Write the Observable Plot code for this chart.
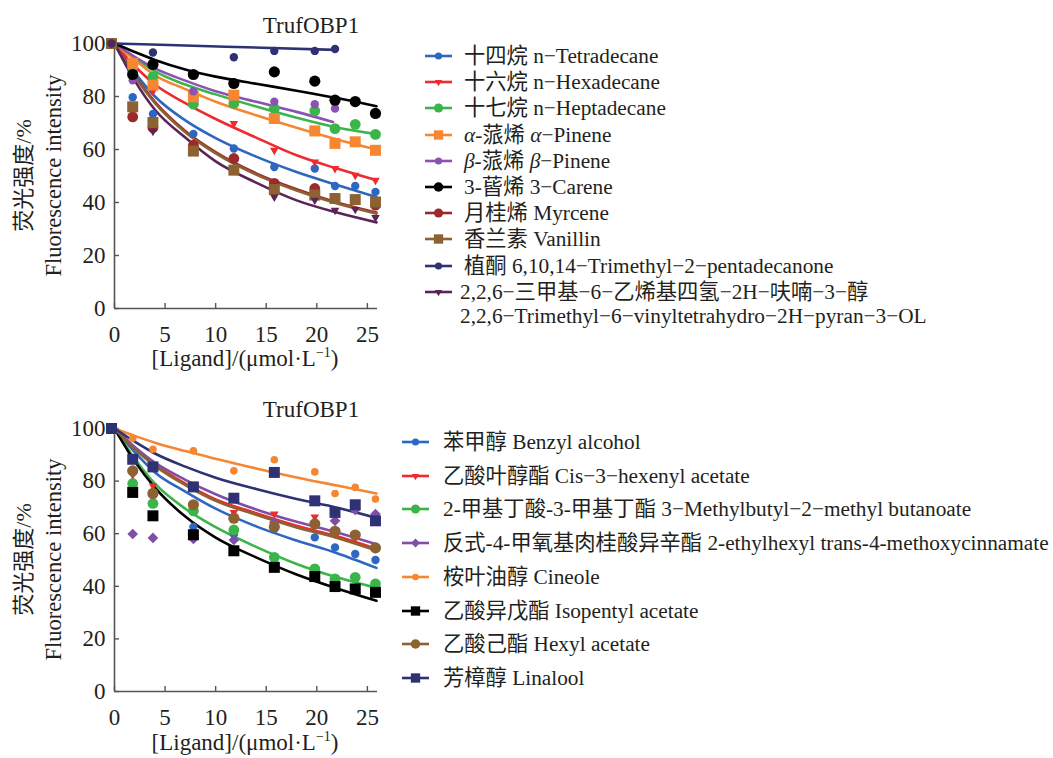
<!DOCTYPE html>
<html><head><meta charset="utf-8">
<script src="https://cdn.jsdelivr.net/npm/d3@7"></script>
<script src="https://cdn.jsdelivr.net/npm/@observablehq/plot@0.6"></script>
<style>
html,body{margin:0;padding:0;background:#fff;}
#root{position:relative;width:1053px;height:758px;overflow:hidden;font-family:'Liberation Serif','Times New Roman','Noto Sans CJK SC',serif;color:#231f20;}
.leg{position:absolute;white-space:nowrap;font-size:21.3px;line-height:26px;}
.sym{position:absolute;overflow:visible;}
</style></head><body><div id="root"></div>
<script>
// ---------------- data ----------------
const xs = [-0.3, 1.8, 3.8, 7.8, 11.8, 15.8, 19.8, 21.8, 23.8, 25.8];   // measured concentrations (as drawn)
const fitX = [0, 2, 4, 7, 10, 14, 18, 22, 25.9];                          // fitted-curve sample positions
const xTicks = [0, 5, 10, 15, 20, 25];
const yTicks = [0, 20, 40, 60, 80, 100];
const chartTitle = "TrufOBP1";

// top chart
const tetradecanePts = [100, 79.7, 73.4, 65.9, 60.4, 53.4, 52.8, 46.2, 46.2, 44.0];
const tetradecaneFit = [100, 89, 80, 71, 64.3, 57.3, 51.5, 46.6, 42.0];
const hexadecanePts  = [100, 90.3, 82.0, 78.0, 69.8, 59.7, 55.3, 52.8, 50.3, 48.4];
const hexadecaneFit  = [100, 91.5, 84.5, 77.5, 71.5, 64.5, 57.8, 52.8, 48.4];
const heptadecanePts = [100, 89.5, 87.4, 77.1, 77.4, 75.5, 74.6, 67.9, 69.5, 65.7];
const heptadecaneFit = [100, 94.5, 89.5, 84.5, 80.8, 76.2, 72.0, 68.3, 65.8];
const aPinenePts     = [100, 92.5, 84.3, 79.9, 80.5, 71.7, 67.0, 62.3, 62.9, 59.7];
const aPineneFit     = [100, 93.8, 88.0, 82.8, 78.0, 72.9, 68.2, 63.8, 60.0];
const bPinenePts     = [100, 86.1, null, 82.0, null, 78.0, 77.1, 75.5, null, null];
const bPineneFitX    = [0, 2, 4, 7, 10, 14, 18, 21.6];
const bPineneFit     = [100, 95.0, 90.6, 86.0, 82.0, 78.0, 74.2, 70.4];
const carenePts      = [100, 88.3, 92.1, 88.3, 84.9, 89.3, 85.8, 78.6, 78.1, 73.6];
const careneFit      = [100, 96.8, 93.8, 90.2, 87.5, 84.8, 82.2, 79.4, 76.3];
const myrcenePts     = [100, 72.3, 68.2, 61.6, 56.6, 47.2, 45.3, null, null, 39.0];
const myrceneFit     = [100, 87.8, 78.0, 67.0, 59.0, 51.0, 45.0, 40.0, 36.2];
const vanillinPts    = [100, 76.1, 70.2, 59.4, 52.2, 44.9, 42.8, 41.5, 41.1, 40.2];
const vanillinFit    = [100, 87.5, 77.5, 66.5, 58.5, 50.5, 44.5, 39.6, 35.8];
const phytonePts     = [100, null, 96.6, null, 94.8, 97.2, 97.2, 97.9, null, null];
const phytoneFitX    = [0, 11, 21.8];
const phytoneFit     = [100, 98.8, 97.6];
const pyranolPts     = [100, null, 66.9, null, null, 42.1, 40.9, 37.1, 37.4, 34.3];
const pyranolFit     = [100, 86, 75, 64.5, 55.5, 47.5, 40.8, 36.2, 32.5];

const topLabels = [
  "十四烷 n−Tetradecane",
  "十六烷 n−Hexadecane",
  "十七烷 n−Heptadecane",
  "<i>α</i>-蒎烯 <i>α</i>−Pinene",
  "<i>β</i>-蒎烯 <i>β</i>−Pinene",
  "3-蒈烯 3−Carene",
  "月桂烯 Myrcene",
  "香兰素 Vanillin",
  "植酮 6,10,14−Trimethyl−2−pentadecanone",
  "2,2,6−三甲基−6−乙烯基四氢−2H−呋喃−3−醇<br>2,2,6−Trimethyl−6−vinyltetrahydro−2H−pyran−3−OL"
];

// bottom chart
const benzylPts      = [100, 79.5, 74.8, 62.6, 59.9, 61.8, 58.6, 54.8, 52.3, 50.0];
const benzylFit      = [100, 91, 83.3, 76, 69.5, 62.8, 57.4, 52.6, 47];
const hexenylPts     = [100, 82.4, 78.2, 69.7, 68.1, 67.5, 66.4, 60.1, 58.4, 54.8];
const hexenylFit     = [100, 92.5, 86.3, 79, 73, 67.8, 63, 59, 54.2];
const methylbutylPts = [100, 79.0, 71.5, 68.7, 61.4, 51.0, 46.6, 42.8, 43.4, 40.9];
const methylbutylFit = [100, 88.5, 79, 69.5, 62.5, 55, 48.5, 43.4, 39.4];
const cinnamatePts   = [100, 59.9, 58.4, 58.0, 57.6, 64.3, 63.4, 64.9, 69.0, 67.5];
const cinnamateFit   = [100, 93, 87, 80.5, 75, 69.2, 64.5, 60.5, 56];
const cineolePts     = [100, 96.3, 92.1, 91.5, 83.9, 88.1, 83.5, 75.3, 77.6, 73.2];
const cineoleFit     = [100, 97.2, 94.6, 91.4, 88.5, 84.8, 81.4, 78.3, 75.3];
const isopentylPts   = [100, 75.7, 66.8, 59.6, 53.5, 47.2, 43.7, 39.9, 39.0, 37.7];
const isopentylFit   = [100, 87.5, 77.5, 66.5, 58.5, 51, 44.5, 39.2, 34.5];
const hexylPts       = [100, 83.9, 75.3, 71.0, 65.9, 62.6, 63.7, 60.9, 59.5, 54.6];
const hexylFit       = [100, 92.2, 85.8, 78.5, 72.5, 67.2, 62.4, 58.4, 53.6];
const linaloolPts    = [100, 88.3, 85.4, 77.8, 73.5, 83.3, 72.5, 68.1, 71.0, 64.9];
const linaloolFit    = [100, 95, 90.5, 85.5, 81.3, 77.0, 73.2, 69.9, 66.0];

const bottomLabels = [
  "苯甲醇 Benzyl alcohol",
  "乙酸叶醇酯 Cis−3−hexenyl acetate",
  "2-甲基丁酸-3-甲基丁酯 3−Methylbutyl−2−methyl butanoate",
  "反式-4-甲氧基肉桂酸异辛酯 2-ethylhexyl trans-4-methoxycinnamate",
  "桉叶油醇 Cineole",
  "乙酸异戊酯 Isopentyl acetate",
  "乙酸己酯 Hexyl acetate",
  "芳樟醇 Linalool"
];

// ---------------- styles ----------------
const FONT = "'Liberation Serif','Times New Roman','Noto Sans CJK SC',serif";
const AXIS = "#555";
const C = {
  blue: "#2d67c0", red: "#ee2b2f", green: "#3bb54a", orange: "#f68631", purple: "#8a52b3",
  black: "#000000", darkred: "#9c2a2c", brown: "#8d6232", navy: "#2f3272", darkpurple: "#5c2358",
  purple2: "#7f4fa6"
};

const topSeries = [
  {pts: tetradecanePts, fit: tetradecaneFit, fx: fitX, color: C.blue, symbol: "circle", r: 4.2},
  {pts: hexadecanePts, fit: hexadecaneFit, fx: fitX, color: C.red, symbol: "triangle", r: 3.2, rotate: 180},
  {pts: heptadecanePts, fit: heptadecaneFit, fx: fitX, color: C.green, symbol: "circle", r: 5.4},
  {pts: aPinenePts, fit: aPineneFit, fx: fitX, color: C.orange, symbol: "square", r: 6.2},
  {pts: bPinenePts, fit: bPineneFit, fx: bPineneFitX, color: C.purple, symbol: "circle", r: 4.2},
  {pts: carenePts, fit: careneFit, fx: fitX, color: C.black, symbol: "circle", r: 5.6},
  {pts: myrcenePts, fit: myrceneFit, fx: fitX, color: C.darkred, symbol: "circle", r: 5.4},
  {pts: vanillinPts, fit: vanillinFit, fx: fitX, color: C.brown, symbol: "square", r: 6.2},
  {pts: phytonePts, fit: phytoneFit, fx: phytoneFitX, color: C.navy, symbol: "circle", r: 4.2},
  {pts: pyranolPts, fit: pyranolFit, fx: fitX, color: C.darkpurple, symbol: "triangle", r: 3.2, rotate: 180}
];
const bottomSeries = [
  {pts: benzylPts, fit: benzylFit, fx: fitX, color: C.blue, symbol: "circle", r: 4.2},
  {pts: hexenylPts, fit: hexenylFit, fx: fitX, color: C.red, symbol: "triangle", r: 3.2, rotate: 180},
  {pts: methylbutylPts, fit: methylbutylFit, fx: fitX, color: C.green, symbol: "circle", r: 5.4},
  {pts: cinnamatePts, fit: cinnamateFit, fx: fitX, color: C.purple2, symbol: "diamond2", r: 4.8},
  {pts: cineolePts, fit: cineoleFit, fx: fitX, color: C.orange, symbol: "circle", r: 3.8},
  {pts: isopentylPts, fit: isopentylFit, fx: fitX, color: C.black, symbol: "square", r: 6.2},
  {pts: hexylPts, fit: hexylFit, fx: fitX, color: C.brown, symbol: "circle", r: 5.6},
  {pts: linaloolPts, fit: linaloolFit, fx: fitX, color: C.navy, symbol: "square", r: 6.2}
];

const root = document.getElementById("root");

function addChart(series, top, height, marginTop, marginBottom) {
  const marks = [
    Plot.ruleY([0], {stroke: AXIS, strokeWidth: 1.6}),
    Plot.ruleX([0], {stroke: AXIS, strokeWidth: 1.6}),
    Plot.axisX({ticks: xTicks, tickSize: -5, tickPadding: 22, fontSize: 23, stroke: AXIS, strokeWidth: 1.4, label: null, fill: "#231f20"}),
    Plot.axisY({ticks: yTicks, tickSize: -5, tickPadding: 14, fontSize: 23, stroke: AXIS, strokeWidth: 1.4, label: null, fill: "#231f20"})
  ];
  series.forEach(s => {
    const fits = s.fx.map((x, i) => ({x, y: s.fit[i]}));
    marks.push(Plot.line(fits, {x: "x", y: "y", stroke: s.color, strokeWidth: 2.6, curve: "monotone-x"}));
  });
  series.forEach(s => {
    const pts = [];
    xs.forEach((x, i) => { if (s.pts[i] != null) pts.push({x, y: s.pts[i]}); });
    marks.push(Plot.dot(pts, {x: "x", y: "y", fill: s.color, stroke: "none", symbol: s.symbol, r: s.r, rotate: s.rotate || 0}));
  });
  const svg = Plot.plot({
    width: 400, height, marginLeft: 114, marginRight: 23, marginTop, marginBottom,
    x: {domain: [0, 26], label: null},
    y: {domain: [0, 100], label: null},
    style: {fontFamily: FONT, fontSize: "23px", color: "#231f20", background: "transparent", overflow: "visible"},
    marks
  });
  svg.style.position = "absolute";
  svg.style.left = "0px";
  svg.style.top = top + "px";
  root.appendChild(svg);
}

const symTypes = {circle: d3.symbolCircle, square: d3.symbolSquare, triangle: d3.symbolTriangle, diamond2: d3.symbolDiamond2};
function addLegend(series, labels, symX, textX, cy0, step) {
  series.forEach((s, i) => {
    const cy = cy0 + step * i;
    const ns = "http://www.w3.org/2000/svg";
    const svg = document.createElementNS(ns, "svg");
    svg.setAttribute("class", "sym");
    svg.setAttribute("width", 28); svg.setAttribute("height", 20);
    svg.style.left = symX + "px"; svg.style.top = (cy - 10) + "px";
    const rr = s.r * 0.85;
    const path = d3.symbol(symTypes[s.symbol], Math.PI * rr * rr)();
    svg.innerHTML = `<line x1="0" x2="27" y1="10" y2="10" stroke="${s.color}" stroke-width="2.6"/>` +
      `<path d="${path}" fill="${s.color}" transform="translate(13.5,10) rotate(${s.rotate || 0})"/>`;
    root.appendChild(svg);
    const div = document.createElement("div");
    div.className = "leg";
    const multi = labels[i].includes("<br>");
    if (multi) {
      div.style.left = (textX - 4) + "px";
      div.style.lineHeight = "24.4px";
      div.style.top = (cy - 12.2) + "px";
    } else {
      div.style.left = textX + "px";
      div.style.top = (cy - 13) + "px";
    }
    div.innerHTML = labels[i];
    root.appendChild(div);
  });
}

addChart(topSeries, 0, 380, 43, 72);
addChart(bottomSeries, 380, 378, 48, 67);
addLegend(topSeries, topLabels, 425, 464, 56, 26.2);
addLegend(bottomSeries, bottomLabels, 402, 443, 442, 33.7);

// titles and axis titles
const ov = document.createElementNS("http://www.w3.org/2000/svg", "svg");
ov.setAttribute("width", 1053); ov.setAttribute("height", 758);
ov.style.position = "absolute"; ov.style.left = "0"; ov.style.top = "0"; ov.style.pointerEvents = "none";
ov.style.fontFamily = FONT;
function axisTitles(off, cy) {
  return `<text x="311" y="${33 + off}" text-anchor="middle" font-size="23" fill="#231f20">${chartTitle}</text>
  <text transform="translate(31,${cy}) rotate(-90)" text-anchor="middle" font-size="22" fill="#231f20">荧光强度/%</text>
  <text transform="translate(61,${cy}) rotate(-90)" text-anchor="middle" font-size="22.5" fill="#231f20">Fluorescence intensity</text>
  <text x="245" y="${366 + off}" text-anchor="middle" font-size="23" fill="#231f20">[Ligand]/(μmol·L<tspan dy="-9" font-size="14">−1</tspan><tspan dy="9">)</tspan></text>`;
}
ov.innerHTML = axisTitles(0, 175.5) + axisTitles(384, 559.5);
root.appendChild(ov);
</script>
</body></html>
